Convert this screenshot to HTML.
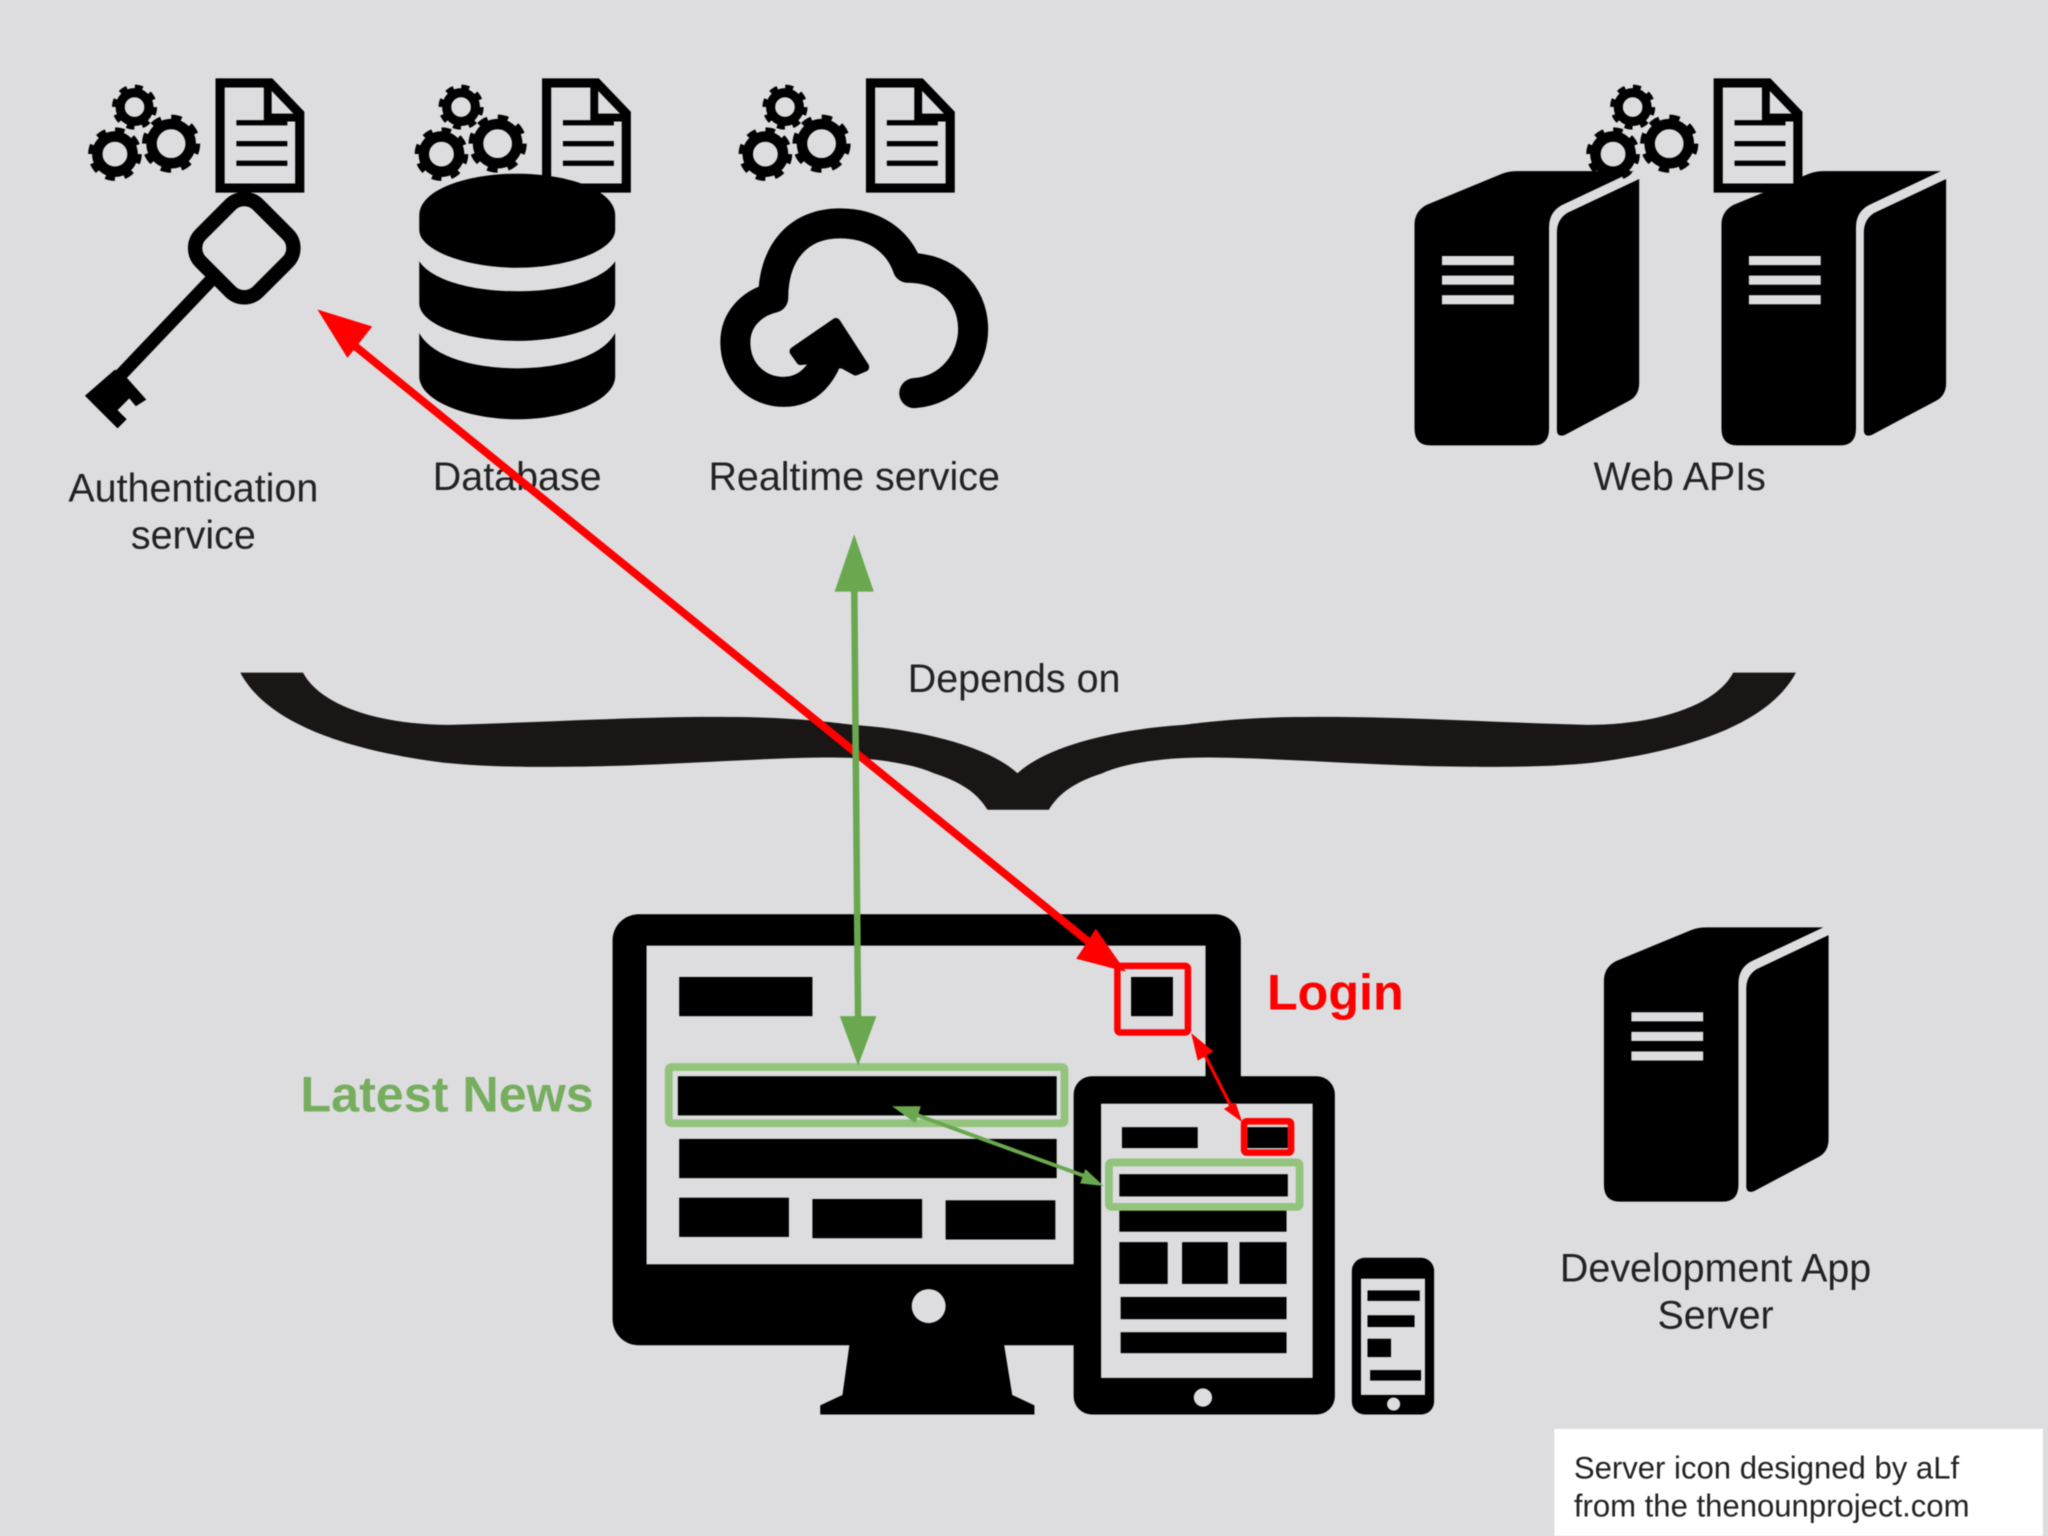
<!DOCTYPE html>
<html><head><meta charset="utf-8"><style>
html,body{margin:0;padding:0;background:#dddde0}
svg{display:block;filter:blur(0.5px)}
text{font-family:"Liberation Sans",sans-serif;fill:#222}
</style></head><body>
<svg xmlns="http://www.w3.org/2000/svg" width="2048" height="1536" viewBox="0 0 1568 1176">
<defs>
<g id="gd">
<circle cx="103" cy="82" r="11" fill="none" stroke="#000" stroke-width="7"/>
<circle cx="103" cy="82" r="15" fill="none" stroke="#000" stroke-width="4.5" stroke-dasharray="5.9 5.9"/>
<circle cx="88" cy="118" r="13.5" fill="none" stroke="#000" stroke-width="8"/>
<circle cx="88" cy="118" r="18.5" fill="none" stroke="#000" stroke-width="4" stroke-dasharray="7.26 7.26"/>
<circle cx="131" cy="110" r="15" fill="none" stroke="#000" stroke-width="8"/>
<circle cx="131" cy="110" r="20" fill="none" stroke="#000" stroke-width="4.5" stroke-dasharray="7.85 7.85"/>
<path d="M168.5,63.5H207L229.5,87V144H168.5Z" fill="#dddde0" stroke="#000" stroke-width="7"/>
<path d="M205,64V90H230" fill="none" stroke="#000" stroke-width="6"/>
<rect x="181" y="92" width="39" height="4"/><rect x="181" y="108" width="39" height="4"/><rect x="181" y="123" width="39" height="4"/>
</g>
<g id="srv">
<path d="M1083,172Q1083,162 1092,157L1150,133Q1155,131 1162,131H1251L1198,156Q1186,161 1186,174V328Q1186,341 1174,341H1095Q1083,341 1083,328Z"/>
<path d="M1192,178Q1192,168 1200,163L1255,137V293Q1255,303 1247,307L1198,333Q1192,335 1192,329Z"/>
<rect x="1104" y="196" width="55" height="7" fill="#dddde0"/>
<rect x="1104" y="211" width="55" height="7" fill="#dddde0"/>
<rect x="1104" y="226" width="55" height="7" fill="#dddde0"/>
</g>
</defs>
<rect width="1568" height="1176" fill="#dddde0"/>

<use href="#srv"/>
<use href="#srv" x="235"/>
<use href="#srv" x="145" y="579"/>

<use href="#gd"/>
<use href="#gd" x="250"/>
<use href="#gd" x="498"/>
<use href="#gd" x="1147"/>

<!-- key -->
<rect x="156" y="159" width="62" height="62" rx="15" fill="none" stroke="#000" stroke-width="11" transform="rotate(45 187 190)"/>
<line x1="162" y1="214" x2="82" y2="298" stroke="#000" stroke-width="10"/>
<path d="M65,303L88,283L96,288L112,306L104,311L99,305L90,314L97,321L90,328Z"/>

<!-- database -->
<path d="M321,165C321,145 358,133 396,133C434,133 471,145 471,165V176C471,192 434,205 396,205C358,205 321,192 321,176Z"/>
<path d="M321,200C330,214 360,223 396,223C432,223 462,214 471,200V232C471,249 434,261 396,261C358,261 321,249 321,232Z"/>
<path d="M321,255C330,272 360,282 396,282C432,282 462,272 471,255V288C471,307 434,321 396,321C358,321 321,307 321,288Z"/>

<!-- cloud -->
<path d="M700,301C728,299 746,275 745,250C744,225 725,205 695,205C688,185 670,171 643,171C610,171 592,195 592,228C575,232 563,245 563,262C563,285 580,300 600,300C620,300 630,285 635,270" fill="none" stroke="#000" stroke-width="23" stroke-linecap="round" stroke-linejoin="round"/>
<path d="M640,247L608,269L613,276L623,275L646,279L655,284L662,281Z" stroke="#000" stroke-width="7" stroke-linejoin="round"/>

<!-- brace -->
<path d="M184,515H232C245,540 290,555 344,555C420,553 500,548 559,549C600,549 630,552 653,555C700,558 755,570 779,592C803,570 858,558 906,555C929,552 959,549 1000,549C1059,548 1139,553 1215,555C1269,555 1314,540 1327,515H1375C1354,555 1290,575 1219,584C1179,588 1139,587 1125,587C1059,587 979,580 922,580C889,580 859,585 844,592C819,600 809,610 803,620H756C750,610 740,600 715,592C700,585 670,580 637,580C580,580 500,587 434,587C420,587 380,588 340,584C269,575 205,555 184,515Z" fill="#1a1616"/>

<!-- monitor -->
<rect x="469" y="700" width="481" height="330" rx="20"/>
<path d="M651,1025H768L775,1068L792,1076V1083H628V1076L645,1068Z"/>
<rect x="495" y="724" width="428" height="244" fill="#dddde0"/>
<circle cx="711" cy="1000" r="13" fill="#dddde0"/>
<rect x="520" y="748" width="102" height="30"/>
<rect x="866" y="748" width="32" height="30"/>
<rect x="519" y="824" width="290" height="30"/>
<rect x="520" y="872" width="289" height="30"/>
<rect x="520" y="917" width="84" height="30"/>
<rect x="622" y="918" width="84" height="30"/>
<rect x="724" y="919" width="84" height="30"/>

<!-- tablet -->
<rect x="822" y="824" width="200" height="259" rx="14"/>
<rect x="843" y="845" width="162" height="210" fill="#dddde0"/>
<circle cx="921" cy="1070" r="7" fill="#dddde0"/>
<rect x="859" y="863" width="58" height="16"/>
<rect x="955" y="863" width="31" height="16"/>
<rect x="857" y="899" width="129" height="17"/>
<rect x="857" y="925" width="128" height="18"/>
<rect x="857" y="951" width="37" height="32"/>
<rect x="905" y="951" width="35" height="32"/>
<rect x="949" y="951" width="36" height="32"/>
<rect x="858" y="993" width="127" height="17"/>
<rect x="858" y="1020" width="127" height="16"/>

<!-- phone -->
<rect x="1035" y="963" width="63" height="120" rx="10"/>
<rect x="1042" y="979" width="49" height="89" fill="#dddde0"/>
<circle cx="1067" cy="1075" r="5" fill="#dddde0"/>
<rect x="1047" y="988" width="40" height="8"/>
<rect x="1047" y="1007" width="36" height="9"/>
<rect x="1047" y="1025" width="18" height="14"/>
<rect x="1049" y="1049" width="39" height="8"/>

<!-- highlights -->
<rect x="512" y="817" width="303" height="43" rx="2" fill="none" stroke="#93c47d" stroke-width="6"/>
<rect x="849" y="890" width="146" height="34" rx="2" fill="none" stroke="#93c47d" stroke-width="6"/>
<rect x="855.5" y="739.5" width="54" height="51" rx="2" fill="none" stroke="#f00" stroke-width="5"/>
<rect x="952.5" y="858.5" width="36" height="24" rx="2" fill="none" stroke="#f00" stroke-width="5"/>

<!-- labels -->
<g font-size="30.2">
<text x="148" y="384" text-anchor="middle">Authentication</text>
<text x="148" y="420" text-anchor="middle">service</text>
<text x="396" y="375" text-anchor="middle">Database</text>
<text x="654" y="375" text-anchor="middle">Realtime service</text>
<text x="1286" y="375" text-anchor="middle">Web APIs</text>
<text x="695" y="530">Depends on</text>
<text x="1313.5" y="981" text-anchor="middle">Development App</text>
<text x="1313.5" y="1017" text-anchor="middle">Server</text>
</g>
<text x="230" y="851" font-size="38.5" font-weight="bold" style="fill:#76ad5e">Latest News</text>
<text x="970" y="773" font-size="38.5" font-weight="bold" style="fill:#f00">Login</text>

<!-- connectors -->
<line x1="262" y1="257" x2="842" y2="728" stroke="#f00" stroke-width="6"/>
<path d="M243,237L285,250L266,274Z" fill="#f00"/>
<path d="M862,744L839,711L824,734Z" fill="#f00"/>
<line x1="654" y1="445" x2="657" y2="785" stroke="#6aa84f" stroke-width="5"/>
<path d="M654,409L639,453H669Z" fill="#6aa84f"/>
<path d="M657,816L643,778H671Z" fill="#6aa84f"/>
<line x1="921" y1="805" x2="943" y2="848" stroke="#f00" stroke-width="2.5"/>
<path d="M912,791L929,805L917,812Z" fill="#f00"/>
<path d="M951,859L946,844L937,849Z" fill="#f00"/>
<line x1="700" y1="853" x2="832" y2="901" stroke="#6aa84f" stroke-width="3"/>
<path d="M683,847H705L701,860Z" fill="#6aa84f"/>
<path d="M845,908L831,895L827,906Z" fill="#6aa84f"/>

<!-- credit -->
<rect x="1190" y="1094" width="374" height="82" fill="#fff"/>
<text x="1205" y="1132" font-size="23.8">Server icon designed by aLf</text>
<text x="1205" y="1161" font-size="23.8">from the thenounproject.com</text>
</svg>
</body></html>
